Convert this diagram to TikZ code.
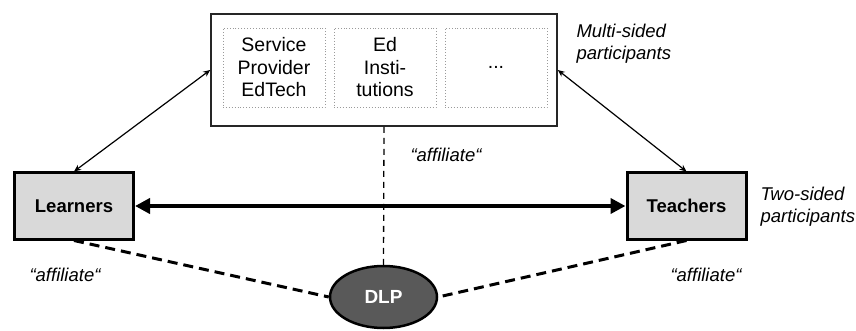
\documentclass[tikz,border=0pt]{standalone}
\usepackage{fontspec}
\setmainfont{Liberation Sans}
\usetikzlibrary{arrows.meta,shapes.geometric}
\definecolor{boxgray}{HTML}{D9D9D9}
\definecolor{dlpgray}{HTML}{595959}
\definecolor{dotgray}{HTML}{9A9A9A}
\tikzset{
  sidebox/.style={draw=black, line width=3pt, fill=boxgray, minimum width=119pt, minimum height=66pt, font=\fontsize{18.5}{22}\selectfont\bfseries},
  platbox/.style={draw=black!85, line width=1.6pt, minimum width=346pt, minimum height=112pt},
  partbox/.style={draw=dotgray, dotted, line width=0.9pt, minimum width=102pt, minimum height=79pt, align=center, font=\fontsize{19.5}{22.5}\selectfont},
  dlpnode/.style={ellipse, draw=black, line width=2.5pt, fill=dlpgray, text=white, minimum width=107pt, minimum height=62pt, font=\fontsize{19}{22}\selectfont\bfseries},
  note/.style={font=\fontsize{18.5}{22}\selectfont\itshape, align=left},
  thinarrow/.style={line width=1.2pt, {Stealth[length=7pt,width=6pt]}-{Stealth[length=7pt,width=6pt]}},
  bigarrow/.style={line width=4pt, {Triangle[length=15pt,width=15pt]}-{Triangle[length=15pt,width=15pt]}},
  affline/.style={line width=3pt, dash pattern=on 10pt off 6pt},
  vline/.style={line width=1.3pt, dash pattern=on 6pt off 5pt},
}
\begin{document}
\begin{tikzpicture}[x=1pt,y=-1pt]
\useasboundingbox (0,0) rectangle (856,331);
\node[platbox] (top) at (384,70) {};
\node[partbox] (p1) at (274,67.5) {Service\\Provider\\EdTech};
\node[partbox] (p2) at (385,67.5) {Ed\\Insti-\\tutions};
\node[partbox] (p3) at (496,67.5) {...};
\node[sidebox] (L) at (74,206) {Learners};
\node[sidebox] (T) at (686.5,206) {Teachers};
\node[dlpnode] (D) at (383.5,297) {DLP};
\node[note, anchor=west] (ms) at (573,44) {Multi-sided\\participants};
\node[note, anchor=west] (ts) at (757,207) {Two-sided\\participants};
\node[note] (a1) at (446,155) {“affiliate“};
\node[note] (a2) at (65,275) {“affiliate“};
\node[note] (a3) at (706,275) {“affiliate“};
\draw[thinarrow] (L.north) -- (top.west);
\draw[thinarrow] (top.east) -- (T.north);
\draw[bigarrow] (L.east) -- (T.west);
\draw[vline] (top.south) -- (D.north);
\draw[affline] (L.south) -- (D.west);
\draw[affline] (T.south) -- (D.east);
\end{tikzpicture}
\end{document}
